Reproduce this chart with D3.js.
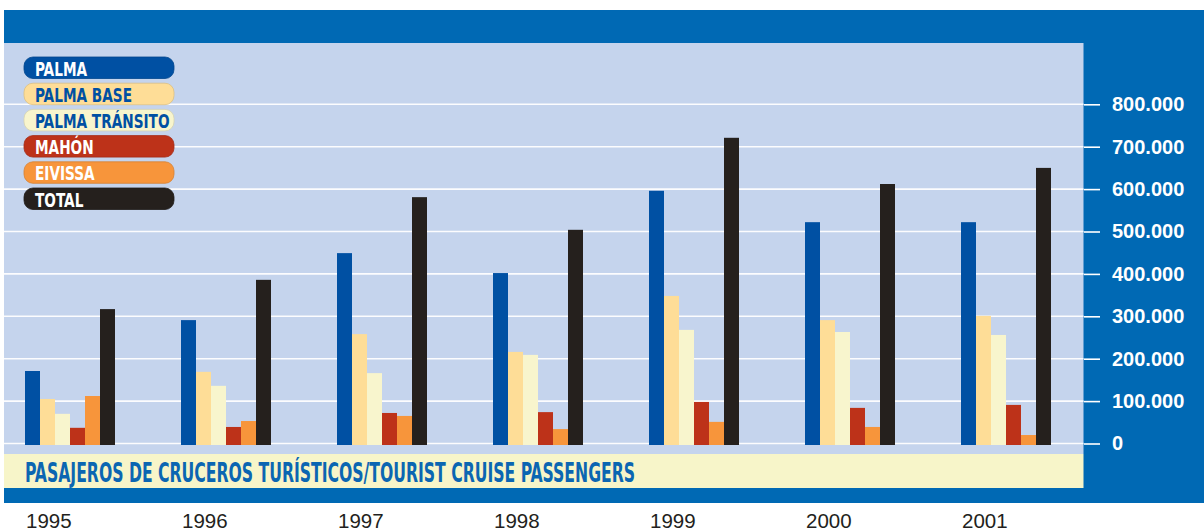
<!DOCTYPE html>
<html>
<head>
<meta charset="utf-8">
<script src="https://cdn.jsdelivr.net/npm/d3@7"></script>
<style>
  html, body { margin: 0; padding: 0; background: #ffffff; }
  svg { display: block; }
</style>
</head>
<body>
<svg id="chart" width="1204" height="531"></svg>
<script>
// ---- data ----
const years = ["1995", "1996", "1997", "1998", "1999", "2000", "2001"];
const seriesNames = ["PALMA", "PALMA BASE", "PALMA TRÁNSITO", "MAHÓN", "EIVISSA", "TOTAL"];
const palma        = [171000, 291000, 449000, 402000, 596000, 522000, 522000];
const palmaBase    = [105000, 169000, 258000, 216000, 348000, 291000, 301000];
const palmaTransit = [ 70000, 136000, 166000, 209000, 268000, 263000, 256000];
const mahon        = [ 37000,  39000,  72000,  74000,  98000,  84000,  91000];
const eivissa      = [112000,  53000,  65000,  34000,  51000,  39000,  20000];
const total        = [317000, 386000, 581000, 504000, 721000, 612000, 650000];
const tickValues   = [0, 100000, 200000, 300000, 400000, 500000, 600000, 700000, 800000];
const title = "PASAJEROS DE CRUCEROS TURÍSTICOS/TOURIST CRUISE PASSENGERS";

const seriesValues = [palma, palmaBase, palmaTransit, mahon, eivissa, total];
const colors = ["#0050a3", "#fedd97", "#f8f5cd", "#bd3219", "#f7953b", "#25201d"];
const legendTextColors = ["#ffffff", "#0050a3", "#0050a3", "#ffffff", "#ffffff", "#ffffff"];

const svg = d3.select("#chart");

// ---- frame ----
const frameBlue = "#0069b4";
svg.append("rect").attr("x", 0).attr("y", 10).attr("width", 1204).attr("height", 493).attr("fill", frameBlue);
// plot background
svg.append("rect").attr("x", 4).attr("y", 43).attr("width", 1079.5).attr("height", 411).attr("fill", "#c5d4ed");
// title band
svg.append("rect").attr("x", 4).attr("y", 454).attr("width", 1079.5).attr("height", 34).attr("fill", "#f7f5c9");
// white strip at left edge
svg.append("rect").attr("x", 0).attr("y", 10).attr("width", 4).attr("height", 493).attr("fill", "#ffffff");

// ---- scales ----
const y = d3.scaleLinear().domain([0, 800000]).range([443.5, 104.3]);
const x0 = d3.scaleBand().domain(years).range([25, 1051]).paddingInner(66 / 156).paddingOuter(0);
const x1 = d3.scaleBand().domain(seriesNames).range([0, x0.bandwidth()]).padding(0);

// ---- gridlines ----
svg.append("g").selectAll("line").data(tickValues).join("line")
  .attr("x1", 4).attr("x2", 1083.5)
  .attr("y1", d => y(d)).attr("y2", d => y(d))
  .attr("stroke", "#ffffff").attr("stroke-width", 1.6).attr("opacity", 0.95);

// ---- right axis ----
const axis = d3.axisRight(y).tickValues(tickValues).tickSize(16).tickPadding(12)
  .tickFormat(d => d === 0 ? "0" : d3.format(",")(d).replace(/,/g, "."));
const axG = svg.append("g").attr("transform", "translate(1084,0)").call(axis);
axG.select(".domain").remove();
axG.selectAll(".tick line").attr("stroke", "#ffffff").attr("stroke-width", 1.6);
axG.selectAll(".tick text")
  .attr("fill", "#ffffff")
  .style("font-family", "'Liberation Sans', Arial, sans-serif")
  .style("font-weight", "bold")
  .style("font-size", "20px");

// ---- legend ----
const legend = svg.append("g");
const lg = legend.selectAll("g").data(seriesNames).join("g")
  .attr("transform", (d, i) => `translate(24, ${57 + i * 26.2})`);
lg.append("rect")
  .attr("width", 150).attr("height", 21.5).attr("rx", 9).attr("ry", 9)
  .attr("fill", (d, i) => colors[i])
  .attr("stroke", (d, i) => d3.color(colors[i]).darker(0.4))
  .attr("stroke-width", 0.8);
lg.append("text")
  .attr("transform", "translate(11,18.5) scale(0.8,1)")
  .attr("fill", (d, i) => legendTextColors[i])
  .style("font-family", "'Liberation Sans Narrow', 'DejaVu Sans Condensed', sans-serif")
  .style("font-weight", "bold")
  .style("font-size", "19px")
  .text(d => d);

// ---- bars ----
const groups = svg.append("g").selectAll("g").data(years).join("g")
  .attr("transform", d => `translate(${x0(d)},0)`);
groups.selectAll("rect")
  .data((yr, yi) => seriesNames.map((s, si) => ({ s, si, v: seriesValues[si][yi] })))
  .join("rect")
  .attr("x", d => x1(d.s))
  .attr("width", x1.bandwidth())
  .attr("y", d => y(d.v))
  .attr("height", d => y(0) + 1.5 - y(d.v))
  .attr("fill", d => colors[d.si]);

// ---- title ----
svg.append("text")
  .attr("x", 25).attr("y", 481.5)
  .attr("fill", "#0b66b2")
  .attr("textLength", 610).attr("lengthAdjust", "spacingAndGlyphs")
  .style("font-family", "'Liberation Sans Narrow', 'DejaVu Sans Condensed', sans-serif")
  .style("font-weight", "bold")
  .style("font-size", "27px")
  .text(title);

// ---- year labels ----
svg.append("g").selectAll("text").data(years).join("text")
  .attr("x", d => x0(d) + 1)
  .attr("y", 527.5)
  .attr("fill", "#231f20")
  .style("font-family", "'Liberation Sans', Arial, sans-serif")
  .style("font-size", "20.5px")
  .text(d => d);
</script>
</body>
</html>
